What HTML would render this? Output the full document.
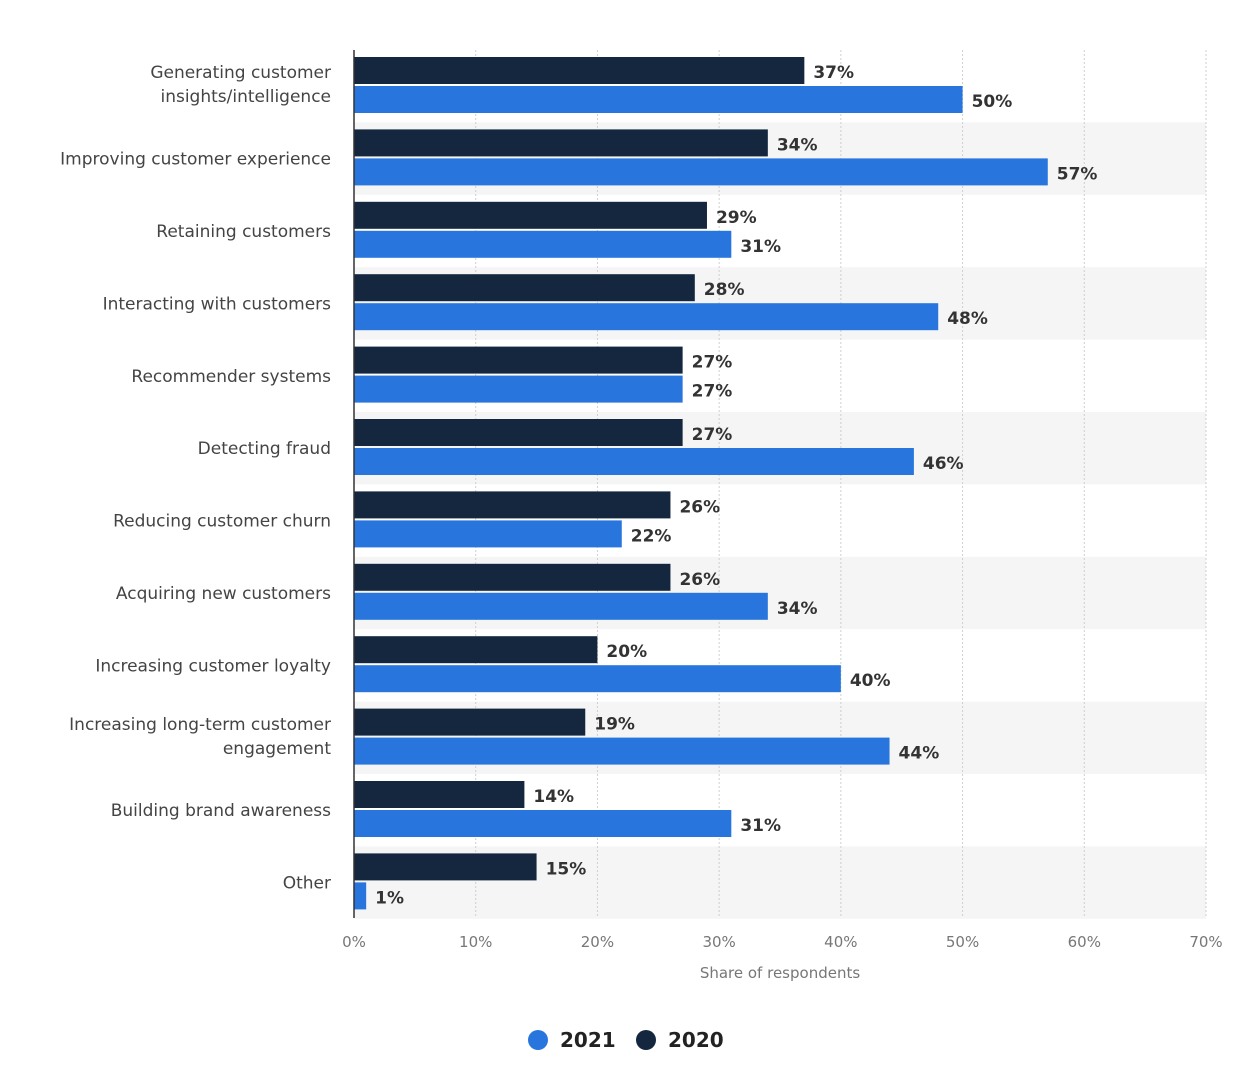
<!DOCTYPE html>
<html><head><meta charset="utf-8"><style>
body{margin:0;background:#fff;font-family:"Liberation Sans","DejaVu Sans",sans-serif;}
svg text{font-family:"DejaVu Sans","Liberation Sans",sans-serif;}
</style></head><body>
<svg id="chart" width="1235" height="1080" xmlns="http://www.w3.org/2000/svg"></svg>
<script>
const categories=[["Generating customer","insights/intelligence"],["Improving customer experience"],["Retaining customers"],["Interacting with customers"],["Recommender systems"],["Detecting fraud"],["Reducing customer churn"],["Acquiring new customers"],["Increasing customer loyalty"],["Increasing long-term customer","engagement"],["Building brand awareness"],["Other"]];
const values2020=[37,34,29,28,27,27,26,26,20,19,14,15];
const values2021=[50,57,31,48,27,46,22,34,40,44,31,1];
const tickLabels=["0%","10%","20%","30%","40%","50%","60%","70%"];
const tickValues=[0,10,20,30,40,50,60,70];

const svg=document.getElementById('chart');
const NS='http://www.w3.org/2000/svg';
const x0=354,x1=1206,maxV=70,topY=50,rowH=72.4;
const xs=v=>x0+(x1-x0)*v/maxV;
function mk(tag,attrs,parent){const e=document.createElementNS(NS,tag);for(const k in attrs)e.setAttribute(k,attrs[k]);(parent||svg).appendChild(e);return e;}
categories.forEach((c,i)=>{if(i%2===1){const r=mk('rect',{x:x0,y:topY+rowH*i,width:x1-x0,height:rowH,fill:'#f5f5f5'});

}});
tickValues.forEach((v,i)=>{if(v>0){const l=mk('line',{x1:xs(v),x2:xs(v),y1:topY,y2:918,stroke:'#cfcfcf','stroke-dasharray':'2,2'});

}
const t=mk('text',{x:xs(v),y:947,'text-anchor':'middle','font-size':'15',fill:'#777'});t.textContent=tickLabels[i];

});
categories.forEach((c,i)=>{
 const y=topY+rowH*i;
 const b1=mk('rect',{x:x0,y:y+7,width:xs(values2020[i])-x0,height:27,fill:'#14273f'});
 
 
 const b2=mk('rect',{x:x0,y:y+36,width:xs(values2021[i])-x0,height:27,fill:'#2876dd'});
 
 
 const t1=mk('text',{x:xs(values2020[i])+9,y:y+28,'font-size':'17','font-weight':'bold',fill:'#333'});t1.textContent=values2020[i]+'%';
 
 
 const t2=mk('text',{x:xs(values2021[i])+9,y:y+57,'font-size':'17','font-weight':'bold',fill:'#333'});t2.textContent=values2021[i]+'%';
 
 
 const n=c.length;
 c.forEach((line,j)=>{const cy=y+rowH/2+6+(j-(n-1)/2)*24-(n>1?2:0);
  const t=mk('text',{x:331,y:cy,'text-anchor':'end','font-size':'17',fill:'#444'});t.textContent=line;
  
  });
});
const ax=mk('line',{x1:x0,x2:x0,y1:topY,y2:918,stroke:'#333','stroke-width':'1.5'});


const at=mk('text',{x:780,y:978,'text-anchor':'middle','font-size':'15',fill:'#777'});at.textContent='Share of respondents';


const lg=mk('g',{});


[[538,'#2876dd','2021',560],[646,'#14273f','2020',668]].forEach(d=>{
 const g=mk('g',{},lg);
 
 
 mk('circle',{cx:d[0],cy:1040,r:10,fill:d[1]},g);
 const t=mk('text',{x:d[3],y:1047,'font-size':'20','font-weight':'bold',fill:'#222'},g);t.textContent=d[2];
});
</script>
</body></html>
